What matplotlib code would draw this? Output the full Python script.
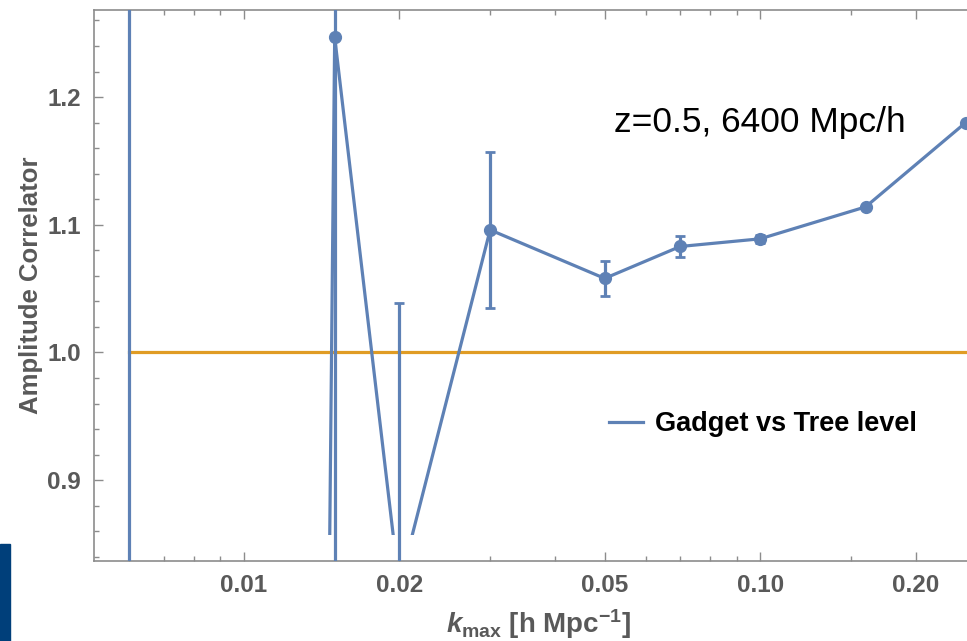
import numpy as np
import matplotlib.pyplot as plt
from matplotlib.lines import Line2D
from matplotlib.patches import Rectangle
from matplotlib.ticker import FixedLocator, FixedFormatter, NullFormatter

plt.rcParams['font.family'] = ['Liberation Sans', 'DejaVu Sans']
plt.rcParams['mathtext.fontset'] = 'custom'
plt.rcParams['mathtext.rm'] = 'Liberation Sans:bold'
plt.rcParams['mathtext.it'] = 'Liberation Sans:italic:bold'
plt.rcParams['mathtext.bf'] = 'Liberation Sans:bold'

# amplitude correlator, Gadget vs tree level, z=0.5, 6400 Mpc/h box
k_max = [0.006, 0.015, 0.02, 0.03, 0.05, 0.07, 0.10, 0.16, 0.25]
amplitude = [-15.0, 1.247, 0.817, 1.096, 1.058, 1.083, 1.089, 1.114, 1.180]
amp_err = [20.0, 0.5, 0.222, 0.061, 0.0135, 0.008, 0.003, 0.0, 0.0]

x_major = [0.01, 0.02, 0.05, 0.10, 0.20]
x_major_labels = ['0.01', '0.02', '0.05', '0.10', '0.20']
x_minor = [0.006, 0.007, 0.008, 0.009, 0.03, 0.04, 0.06, 0.07, 0.08, 0.09, 0.15]
y_major = [0.9, 1.0, 1.1, 1.2]
y_major_labels = ['0.9', '1.0', '1.1', '1.2']
y_minor = np.round(np.arange(0.84, 1.27, 0.02), 2)

blue = '#5e81b5'
orange = '#e09c24'
frame_grey = '#8c8c8c'
label_grey = '#595959'

fig = plt.figure(figsize=(9.67, 6.41), dpi=100)
ax = fig.add_axes([0.0968, 0.1248, 1 - 0.0968, 0.985 - 0.1248])
ax.set_xscale('log')
ax.set_xlim(0.00512, 0.2515)
ax.set_ylim(0.8367, 1.2685)

# reference line at 1
ax.plot([k_max[0], k_max[-1]], [1.0, 1.0], color=orange, lw=2.3, zorder=2)

ax.errorbar(k_max, amplitude, yerr=amp_err, fmt='none', ecolor=blue,
            elinewidth=2.3, capsize=3.5, capthick=2.0, zorder=3)

# joined line is cut at the plot range, not at the frame
line, = ax.plot(k_max, amplitude, '-', color=blue, lw=2.3, zorder=3)
clip = Rectangle((0.004, 0.857), 0.3, 1.25 - 0.857, transform=ax.transData)
line.set_clip_path(clip)

ax.plot(k_max, amplitude, 'o', color=blue, ms=8.5, zorder=4)

ax.xaxis.set_major_locator(FixedLocator(x_major))
ax.xaxis.set_major_formatter(FixedFormatter(x_major_labels))
ax.xaxis.set_minor_locator(FixedLocator(x_minor))
ax.xaxis.set_minor_formatter(NullFormatter())
ax.yaxis.set_major_locator(FixedLocator(y_major))
ax.yaxis.set_major_formatter(FixedFormatter(y_major_labels))
ax.yaxis.set_minor_locator(FixedLocator(y_minor))

ax.tick_params(which='both', direction='in', colors=frame_grey, top=True,
               right=False, labelcolor=label_grey, labelsize=17.5, width=1)
ax.tick_params(which='major', length=6.5)
ax.tick_params(which='minor', length=3.5)
ax.tick_params(axis='x', pad=9)
ax.tick_params(axis='y', pad=9)
for lab in ax.get_xticklabels() + ax.get_yticklabels():
    lab.set_fontweight('bold')

for side in ['left', 'bottom', 'top']:
    ax.spines[side].set_color(frame_grey)
    ax.spines[side].set_linewidth(1.2)
ax.spines['right'].set_visible(False)

ax.set_ylabel('Amplitude Correlator', fontsize=18.5, fontweight='bold',
              color=label_grey, labelpad=3)
ax.set_xlabel(r'$k_{\mathrm{max}}$ [h Mpc$^{\mathbf{-1}}$]', fontsize=20,
              fontweight='bold', color=label_grey, labelpad=8)
ax.xaxis.label.set_x(0.509)

ax.text(0.596, 0.796, 'z=0.5, 6400 Mpc/h', transform=ax.transAxes,
        fontsize=25.5, color='black', ha='left', va='center')

handle = Line2D([], [], color=blue, lw=2.3)
ax.legend([handle], ['Gadget vs Tree level'], loc='center left',
          bbox_to_anchor=(0.590, 0.2485), frameon=False, borderpad=0,
          borderaxespad=0, handlelength=1.25, handletextpad=0.45,
          prop={'size': 19.5, 'weight': 'bold'})

# slide edge bar
fig.patches.append(Rectangle((0, 0), 10 / 967, 97 / 641, transform=fig.transFigure,
                             color='#003f7a', zorder=0))

fig.savefig('out.png', dpi=100)
